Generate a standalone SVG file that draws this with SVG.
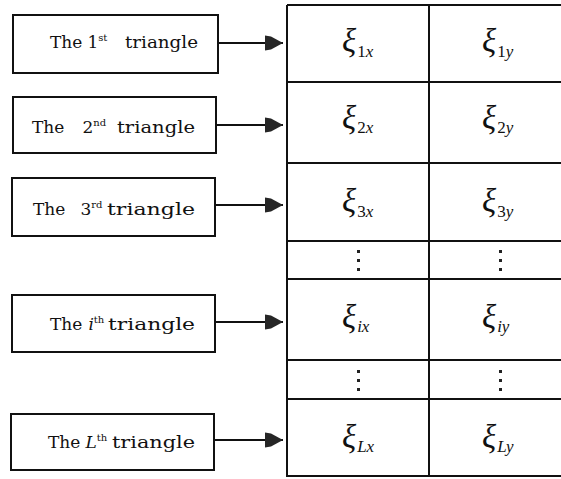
<svg xmlns="http://www.w3.org/2000/svg" width="561" height="479" viewBox="0 0 561 479">
  <style>
    .box { fill: #ffffff; stroke: #111111; stroke-width: 2; }
    .lbl { font-family: "DejaVu Serif", "Liberation Serif", serif; font-size: 17px; fill: #111111; }
    .sup { font-size: 10px; }
    .grid { stroke: #111111; stroke-width: 2; fill: none; }
    .link { stroke: #111111; stroke-width: 2; fill: none; marker-end: url(#head); }
    .xi { font-family: "Liberation Serif", "DejaVu Serif", serif; font-style: italic; font-size: 33px; fill: #111111; }
    .sub { font-family: "Liberation Serif", "DejaVu Serif", serif; font-style: normal; font-size: 17px; }
    .it { font-style: italic; }
    .dot { fill: #222222; }
  </style>
  <defs>
    <marker id="head" markerUnits="userSpaceOnUse" markerWidth="20" markerHeight="18" refX="18" refY="9" orient="auto">
      <path d="M0,1.5 L6,2.5 L18,9 L6,15.5 L0,16.5 Z" fill="#262626"/>
    </marker>
  </defs>

  <rect width="561" height="479" fill="#ffffff"/>

  <!-- table grid -->
  <g id="table">
    <path class="grid" d="M287,5 V477 M429,5 V477"/>
    <path class="grid" d="M287,5 H561 M287,82 H561 M287,163 H561 M287,241 H561 M287,279 H561 M287,360 H561 M287,399 H561 M287,476 H561"/>
  </g>

  <!-- source nodes -->
  <g id="tri1">
    <rect class="box" x="13" y="15" width="205" height="58"/>
    <text class="lbl" y="48"><tspan x="50">The</tspan><tspan x="82"> 1</tspan><tspan class="sup" dy="-7">st </tspan><tspan x="125" dy="7" textLength="73" lengthAdjust="spacingAndGlyphs">triangle</tspan></text>
  </g>
  <g id="tri2">
    <rect class="box" x="13" y="97" width="203" height="56"/>
    <text class="lbl" y="133"><tspan x="32">The</tspan><tspan x="77"> 2</tspan><tspan class="sup" dy="-7">nd </tspan><tspan x="117" dy="7" textLength="78" lengthAdjust="spacingAndGlyphs">triangle</tspan></text>
  </g>
  <g id="tri3">
    <rect class="box" x="12" y="178" width="203" height="58"/>
    <text class="lbl" y="215"><tspan x="33">The</tspan><tspan x="75"> 3</tspan><tspan class="sup" dy="-7">rd </tspan><tspan x="107" dy="7" textLength="88" lengthAdjust="spacingAndGlyphs">triangle</tspan></text>
  </g>
  <g id="tri-i">
    <rect class="box" x="12" y="295" width="203" height="57"/>
    <text class="lbl" y="330"><tspan x="50">The</tspan><tspan x="83"> <tspan class="it">i</tspan></tspan><tspan class="sup" dy="-7">th </tspan><tspan x="108" dy="7" textLength="87" lengthAdjust="spacingAndGlyphs">triangle</tspan></text>
  </g>
  <g id="tri-L">
    <rect class="box" x="11" y="414" width="203" height="56"/>
    <text class="lbl" y="448"><tspan x="48">The</tspan><tspan x="80"> <tspan class="it">L</tspan></tspan><tspan class="sup" dy="-7">th </tspan><tspan x="112" dy="7" textLength="83" lengthAdjust="spacingAndGlyphs">triangle</tspan></text>
  </g>

  <!-- connectors -->
  <g id="connectors">
    <path class="link" d="M218,43 H283"/>
    <path class="link" d="M216,125 H283"/>
    <path class="link" d="M215,205 H283"/>
    <path class="link" d="M215,322 H283"/>
    <path class="link" d="M214,440 H283"/>
  </g>

  <!-- cell entries -->
  <g id="cells">
    <g id="c1">
      <text class="xi" x="342" y="52">ξ<tspan class="sub" dx="1" dy="5">1<tspan class="it">x</tspan></tspan></text>
      <text class="xi" x="482" y="52">ξ<tspan class="sub" dx="1" dy="5">1<tspan class="it">y</tspan></tspan></text>
    </g>
    <g id="c2">
      <text class="xi" x="342" y="129">ξ<tspan class="sub" dx="1" dy="4">2<tspan class="it">x</tspan></tspan></text>
      <text class="xi" x="482" y="129">ξ<tspan class="sub" dx="1" dy="4">2<tspan class="it">y</tspan></tspan></text>
    </g>
    <g id="c3">
      <text class="xi" x="342" y="212">ξ<tspan class="sub" dx="1" dy="5">3<tspan class="it">x</tspan></tspan></text>
      <text class="xi" x="482" y="212">ξ<tspan class="sub" dx="1" dy="5">3<tspan class="it">y</tspan></tspan></text>
    </g>
    <g id="dots1">
      <rect class="dot" x="357" y="250" width="3" height="3"/><rect class="dot" x="357" y="259" width="3" height="3"/><rect class="dot" x="357" y="268" width="3" height="3"/>
      <rect class="dot" x="499" y="250" width="3" height="3"/><rect class="dot" x="499" y="259" width="3" height="3"/><rect class="dot" x="499" y="268" width="3" height="3"/>
    </g>
    <g id="ci">
      <text class="xi" x="342" y="328">ξ<tspan class="sub" dx="1" dy="4"><tspan class="it">ix</tspan></tspan></text>
      <text class="xi" x="482" y="328">ξ<tspan class="sub" dx="1" dy="4"><tspan class="it">iy</tspan></tspan></text>
    </g>
    <g id="dots2">
      <rect class="dot" x="357" y="370" width="3" height="3"/><rect class="dot" x="357" y="379" width="3" height="3"/><rect class="dot" x="357" y="388" width="3" height="3"/>
      <rect class="dot" x="499" y="370" width="3" height="3"/><rect class="dot" x="499" y="379" width="3" height="3"/><rect class="dot" x="499" y="388" width="3" height="3"/>
    </g>
    <g id="cL">
      <text class="xi" x="342" y="448">ξ<tspan class="sub" dx="1" dy="4"><tspan class="it">Lx</tspan></tspan></text>
      <text class="xi" x="482" y="448">ξ<tspan class="sub" dx="1" dy="4"><tspan class="it">Ly</tspan></tspan></text>
    </g>
  </g>
</svg>
